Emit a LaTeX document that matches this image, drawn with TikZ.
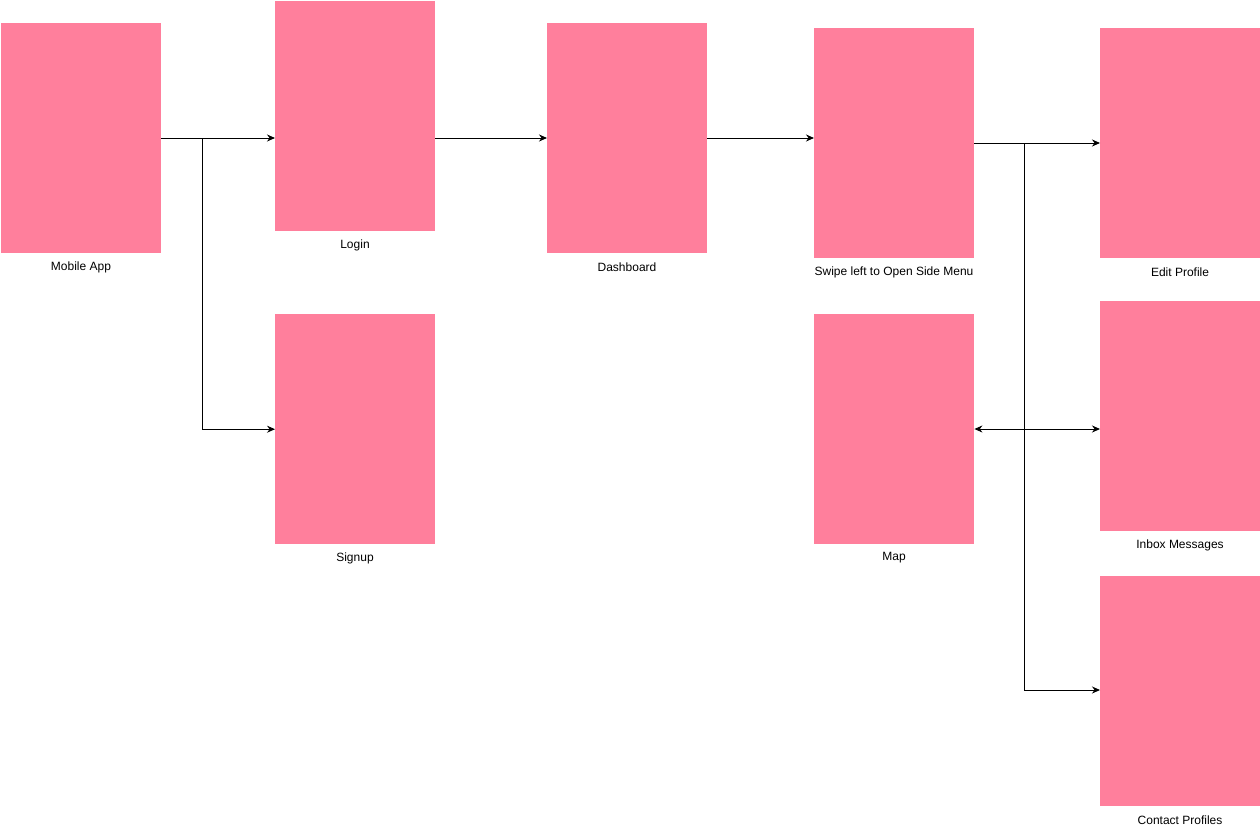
\documentclass[tikz,border=0pt]{standalone}
\usepackage{fontspec}
\setmainfont{Liberation Sans}
\usetikzlibrary{arrows.meta}
\definecolor{pinkbox}{HTML}{FF7F9C}
\begin{document}
\begin{tikzpicture}[x=1pt,y=-1pt,
  screen/.style={fill=pinkbox,draw=none,minimum width=160pt,minimum height=230pt,inner sep=0pt,anchor=north west},
  lbl/.style={font=\fontsize{12}{14}\selectfont,inner sep=0pt},
  conn/.style={line width=1pt,-{Stealth[length=8pt,width=7pt]}},
  plainline/.style={line width=1pt}]
\useasboundingbox (0,0) rectangle (1260,827);
\node[screen] (mobile) at (1,23) {};
\node[screen] (login) at (275,1) {};
\node[screen] (signup) at (275,314) {};
\node[screen] (dash) at (547,23) {};
\node[screen] (swipe) at (814,28) {};
\node[screen] (map) at (814,314) {};
\node[screen] (edit) at (1100,28) {};
\node[screen] (inbox) at (1100,301) {};
\node[screen] (contact) at (1100,576) {};
\node[lbl] (lmobile) at (81,267) {Mobile App};
\node[lbl] (llogin) at (355,245) {Login};
\node[lbl] (lsignup) at (355,558) {Signup};
\node[lbl] (ldash) at (627,267) {Dashboard};
\node[lbl] (lswipe) at (894,272) {Swipe left to Open Side Menu};
\node[lbl] (lmap) at (894,558) {Map};
\node[lbl] (ledit) at (1180,272) {Edit Profile};
\node[lbl] (linbox) at (1180,545) {Inbox Messages};
\node[lbl] (lcontact) at (1180,820) {Contact Profiles};
\coordinate (b1) at (202,138);
\coordinate (b2) at (1024,143);
\coordinate (b3) at (1024,429);
\draw[conn] (mobile.east |- b1) -- (login.west |- b1);
\draw[conn] (b1) |- (signup.west);
\draw[conn] (login.east |- b1) -- (dash.west |- b1);
\draw[conn] (dash.east |- b1) -- (swipe.west |- b1);
\draw[conn] (swipe.east |- b2) -- (edit.west |- b2);
\draw[conn] (b2) |- (contact.west |- 0,690);
\draw[conn] (b3) -- (map.east |- b3);
\draw[conn] (b3) -- (inbox.west |- b3);
\end{tikzpicture}
\end{document}
